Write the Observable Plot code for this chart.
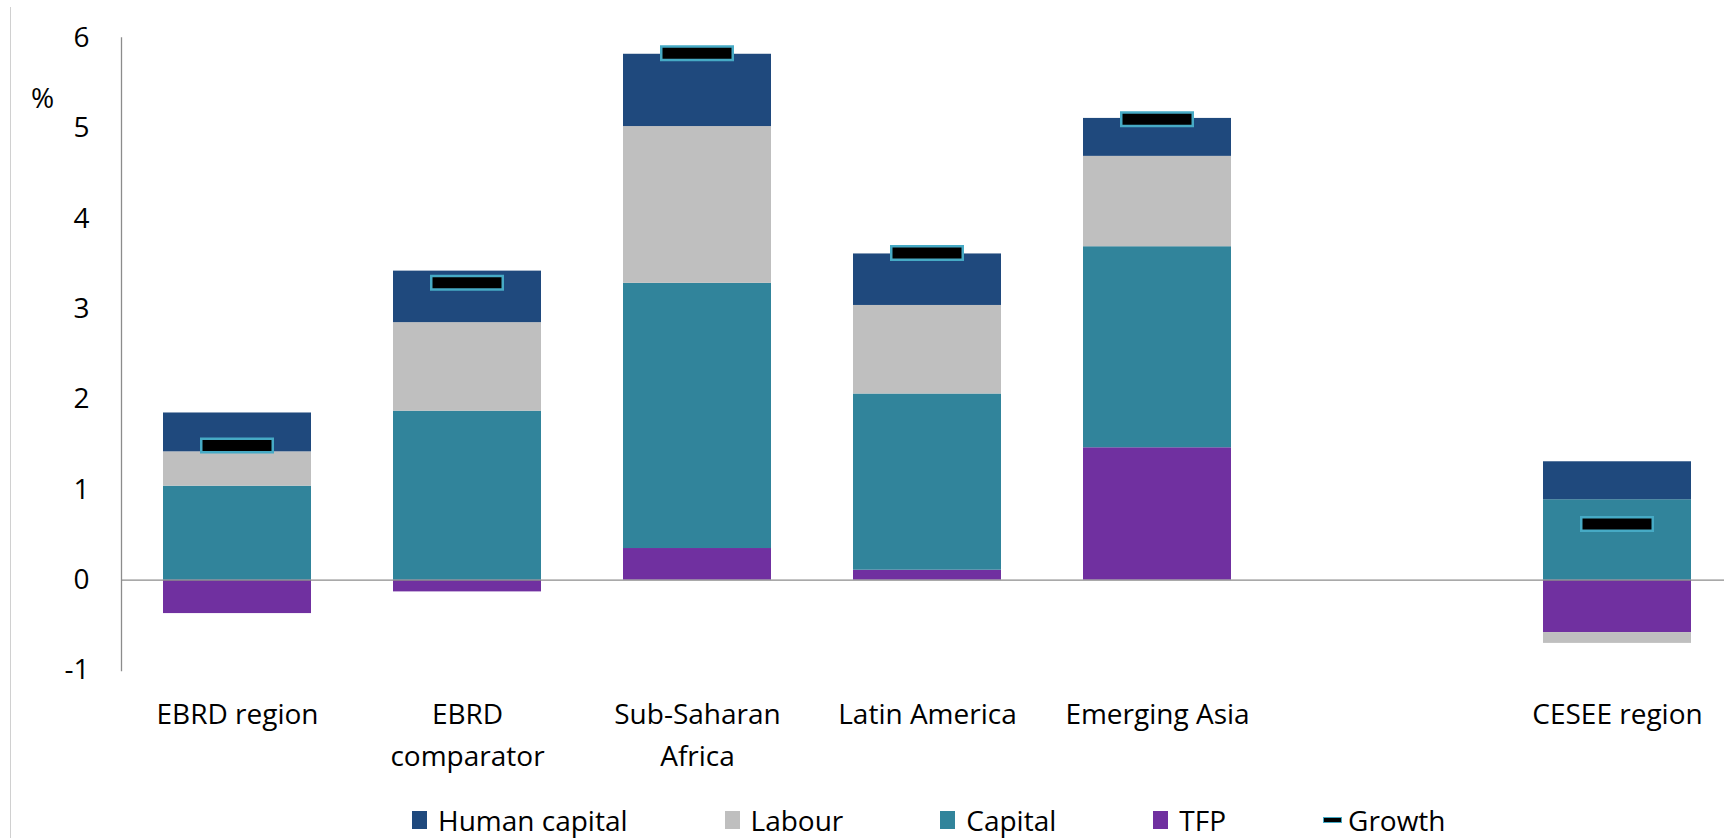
<!DOCTYPE html>
<html>
<head>
<meta charset="utf-8">
<script src="https://cdn.jsdelivr.net/npm/d3@7"></script>
<script src="https://cdn.jsdelivr.net/npm/@observablehq/plot@0.6"></script>
<style>
  html, body { margin: 0; padding: 0; background: #fff; overflow: hidden; }
  #wrap { position: relative; width: 1724px; height: 838px; font-family: "Open Sans", sans-serif; }
  #frame-line { position: absolute; left: 10px; top: 7px; width: 1px; bottom: 0; background: #d0d0d0; }
  #legend { display: flex; align-items: center; height: 48px; padding-top: 12px; padding-left: 412px; box-sizing: border-box; font-size: 28px; color: #000; }
  .item { display: flex; align-items: center; margin-right: 97px; }
  .sw { width: 15px; height: 18px; margin-right: 11px; }
  .gm { width: 17px; height: 4px; background: #000; border: 1.5px solid #46AAC5; margin-right: 6px; }
</style>
</head>
<body>
<div id="wrap"><div id="frame-line"></div><div id="chart"></div><div id="legend"></div></div>
<script>
const categories = ["EBRD region", "EBRD comparator", "Sub-Saharan Africa", "Latin America", "Emerging Asia", " ", "CESEE region"];
const tickLabels = ["EBRD region", "EBRD\ncomparator", "Sub-Saharan\nAfrica", "Latin America", "Emerging Asia", "", "CESEE region"];
const seriesNames = ["TFP", "Capital", "Labour", "Human capital"];
const seriesColors = ["#7030A0", "#31849B", "#BFBFBF", "#1F497D"];
const tfp =          [-0.37, -0.13, 0.35, 0.11, 1.465, null, -0.58];
const capital =      [1.04, 1.87, 2.935, 1.95, 2.225, null, 0.89];
const labour =       [0.38, 0.98, 1.735, 0.98, 1.00, null, -0.12];
const humanCapital = [0.43, 0.57, 0.80, 0.57, 0.42, null, 0.42];
const growth =       [1.49, 3.29, 5.83, 3.62, 5.10, null, 0.62];
const yTicks = [-1, 0, 1, 2, 3, 4, 5, 6];
const legendOrder = ["Human capital", "Labour", "Capital", "TFP"];

const seriesValues = [tfp, capital, labour, humanCapital];
const rows = [];
categories.forEach((c, i) => {
  seriesNames.forEach((s, j) => {
    const v = seriesValues[j][i];
    if (v != null) rows.push({category: c, series: s, value: v});
  });
});
const growthRows = categories.map((c, i) => ({category: c, growth: growth[i]})).filter(d => d.growth != null);

const H = 790;
const chart = Plot.plot({
  width: 1724,
  height: H,
  marginLeft: 121,
  marginRight: 0,
  marginTop: 37.5,
  marginBottom: H - 670,
  style: {fontFamily: "'Open Sans', sans-serif", fontSize: "28px", color: "#000", background: "#fff"},
  x: {domain: categories, range: [121, 1733], paddingInner: 0.355, paddingOuter: 0.1775},
  y: {domain: [-1, 6]},
  color: {domain: seriesNames, range: seriesColors},
  marks: [
    Plot.barY(rows, {x: "category", y: "value", fill: "series"}),
    Plot.ruleY([0], {stroke: "#8c8c8c", strokeWidth: 1.3}),
    Plot.frame({anchor: "left", stroke: "#8c8c8c", strokeWidth: 1.3}),
    Plot.tickY(growthRows, {x: "category", y: "growth", stroke: "#46AAC5", strokeWidth: 16, inset: 37}),
    Plot.tickY(growthRows, {x: "category", y: "growth", stroke: "#000", strokeWidth: 11, inset: 39.5}),
    Plot.axisY({ticks: yTicks, tickSize: 0, tickPadding: 32, tickFormat: d => String(d), fontSize: 28, label: null}),
    Plot.axisX({tickSize: 0, tickPadding: 24, tickFormat: d => tickLabels[categories.indexOf(d)], fontSize: 28, lineHeight: 1.5, label: null}),
    Plot.text(["%"], {frameAnchor: "top-left", dx: -79, dy: 50, fontSize: 28, textAnchor: "middle", fill: "#000"})
  ]
});
document.getElementById("chart").appendChild(chart);

const legend = document.getElementById("legend");
legendOrder.forEach(name => {
  const it = document.createElement("div");
  it.className = "item";
  const sw = document.createElement("span");
  sw.className = "sw";
  sw.style.background = seriesColors[seriesNames.indexOf(name)];
  const tx = document.createElement("span");
  tx.textContent = name;
  it.appendChild(sw); it.appendChild(tx);
  legend.appendChild(it);
});
const g = document.createElement("div");
g.className = "item";
const gm = document.createElement("span");
gm.className = "gm";
const gt = document.createElement("span");
gt.textContent = "Growth";
g.appendChild(gm); g.appendChild(gt);
legend.appendChild(g);
</script>
</body>
</html>
